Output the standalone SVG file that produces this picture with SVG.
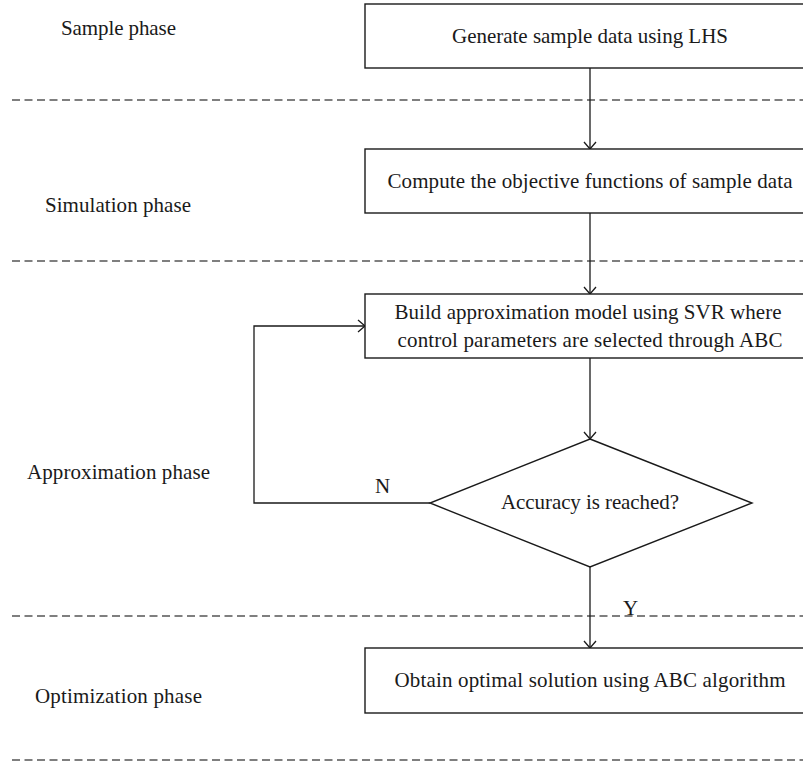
<svg xmlns="http://www.w3.org/2000/svg" width="803" height="763" viewBox="0 0 803 763">
<style>
  text { font-family: "Liberation Serif", "Times New Roman", serif; font-size: 21px; fill: #1a1a1a; }
  .mid { text-anchor: middle; }
  .box { fill: #ffffff; stroke: #1a1a1a; stroke-width: 1.4; }
  .dash { stroke: #555555; stroke-width: 1.4; stroke-dasharray: 8 4.5; fill: none; }
  .conn { stroke: #1a1a1a; stroke-width: 1.3; fill: none; marker-end: url(#arrow); }
</style>
<defs>
  <marker id="arrow" markerUnits="userSpaceOnUse" markerWidth="16" markerHeight="16" refX="0" refY="0" viewBox="-9 -8 10 16" orient="auto">
    <path d="M-7,-6 L0,0 L-7,6" fill="none" stroke="#1a1a1a" stroke-width="1.3"/>
  </marker>
</defs>
<rect width="803" height="763" fill="#ffffff"/>

<g id="phases">
  <line class="dash" x1="12" y1="100" x2="803" y2="100"/>
  <line class="dash" x1="12" y1="261" x2="803" y2="261"/>
  <line class="dash" x1="12" y1="616" x2="803" y2="616"/>
  <line class="dash" x1="12" y1="760" x2="803" y2="760"/>
  <text x="61" y="35" textLength="115">Sample phase</text>
  <text x="45" y="212" textLength="146">Simulation phase</text>
  <text x="27" y="479" textLength="183">Approximation phase</text>
  <text x="35" y="703" textLength="167">Optimization phase</text>
</g>

<g id="connectors">
  <line class="conn" x1="590" y1="68" x2="590" y2="149"/>
  <line class="conn" x1="590" y1="213" x2="590" y2="294"/>
  <line class="conn" x1="590" y1="358" x2="590" y2="439"/>
  <line class="conn" x1="590" y1="567" x2="590" y2="648"/>
  <polyline class="conn" points="430,503 254,503 254,326 365,326"/>
  <text x="375" y="493" textLength="13">N</text>
  <text x="623" y="615" textLength="12">Y</text>
</g>

<g id="node-generate">
  <rect class="box" x="365" y="4" width="450" height="64"/>
  <text class="mid" x="590" y="43" textLength="276">Generate sample data using LHS</text>
</g>

<g id="node-compute">
  <rect class="box" x="365" y="149" width="450" height="64"/>
  <text class="mid" x="590" y="188" textLength="405">Compute the objective functions of sample data</text>
</g>

<g id="node-build">
  <rect class="box" x="365" y="294" width="450" height="64"/>
  <text class="mid" x="588" y="319" textLength="387">Build approximation model using SVR where</text>
  <text class="mid" x="590" y="347" textLength="385">control parameters are selected through ABC</text>
</g>

<g id="node-accuracy">
  <polygon class="box" points="590,439 752,503 590,567 430,503"/>
  <text class="mid" x="590" y="509" textLength="178">Accuracy is reached?</text>
</g>

<g id="node-obtain">
  <rect class="box" x="365" y="648" width="450" height="65"/>
  <text class="mid" x="590" y="687" textLength="391">Obtain optimal solution using ABC algorithm</text>
</g>
</svg>
